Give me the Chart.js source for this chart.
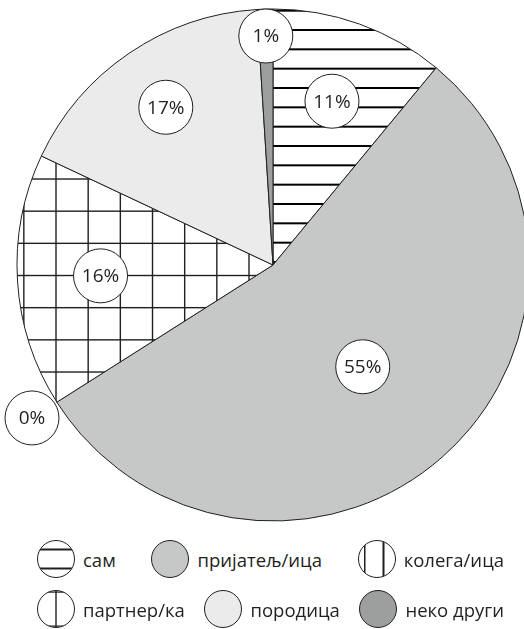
<!DOCTYPE html>
<html>
<head>
<meta charset="utf-8">
<script src="https://cdn.jsdelivr.net/npm/chart.js@4.4.1/dist/chart.umd.min.js"></script>
<style>
  html, body { margin: 0; padding: 0; background: #fff; overflow: hidden; width: 524px; height: 629px; }
  #pie { position: absolute; left: 0; top: 0; }
  #legend {
    position: absolute; left: 37px; top: 540px; width: 467px;
    font-family: "Open Sans", sans-serif; font-size: 18.5px; color: #231f20;
  }
  .row { display: flex; justify-content: space-between; align-items: center; height: 38px; margin-bottom: 12px; }
  .item { display: flex; align-items: center; }
  .item canvas { margin-right: 8px; }
</style>
</head>
<body>
<canvas id="pie" width="546" height="530"></canvas>
<div id="legend"></div>
<script>
// podaci
const categories = ['сам', 'пријатељ/ица', 'колега/ица', 'партнер/ка', 'породица', 'неко други'];
const shares = [11, 55, 0, 16, 17, 1];
const legendRows = [[0, 1, 2], [3, 4, 5]];

// izgled
const fillKinds = ['horiz', '#c6c7c7', 'vert', 'grid', '#ebebeb', '#9d9e9e'];
const labelRadius = [0.68, 0.53, 1.115, 0.675, 0.745, 0.895];
const ink = '#231f20';

// pravi sare (pattern) za isecke
function makePattern(kind) {
    const t = document.createElement('canvas');
    const c = t.getContext('2d');
    c.fillStyle = ink;
    if (kind === 'horiz') {
        t.width = 8; t.height = 58;
        [10.67, 30, 49.33].forEach(y => c.fillRect(0, y - 1, 8, 2));
    } else if (kind === 'vert') {
        t.width = 58; t.height = 8;
        [10.67, 30, 49.33].forEach(x => c.fillRect(x - 1, 0, 2, 8));
    } else {
        t.width = 193; t.height = 193;
        c.fillStyle = '#fff';
        c.fillRect(0, 0, 193, 193);
        c.fillStyle = ink;
        for (let i = 0; i < 6; i++) {
            c.fillRect(23.83 + i * 32.17 - 0.7, 0, 1.4, 193);
            c.fillRect(0, 18.17 + i * 32.17 - 0.7, 193, 1.4);
        }
        return c.createPattern(t, 'repeat');
    }
    const bg = document.createElement('canvas');
    bg.width = t.width; bg.height = t.height;
    const b = bg.getContext('2d');
    b.fillStyle = '#fff';
    b.fillRect(0, 0, bg.width, bg.height);
    b.drawImage(t, 0, 0);
    return b.createPattern(bg, 'repeat');
}

const fills = fillKinds.map(k => k.startsWith('#') ? k : makePattern(k));

// krugovi sa procentima
const percentLabels = {
    id: 'percentLabels',
    afterDatasetsDraw(chart) {
        const ctx = chart.ctx;
        chart.getDatasetMeta(0).data.forEach((arc, i) => {
            const p = arc.getProps(['x', 'y', 'startAngle', 'endAngle', 'outerRadius']);
            const mid = (p.startAngle + p.endAngle) / 2;
            const r = p.outerRadius * labelRadius[i];
            const lx = p.x + Math.cos(mid) * r;
            const ly = p.y + Math.sin(mid) * r;
            ctx.save();
            ctx.beginPath();
            ctx.arc(lx, ly, 27, 0, Math.PI * 2);
            ctx.fillStyle = '#fff';
            ctx.fill();
            ctx.lineWidth = 1;
            ctx.strokeStyle = ink;
            ctx.stroke();
            ctx.fillStyle = ink;
            ctx.font = '19px "Open Sans", sans-serif';
            ctx.textAlign = 'center';
            ctx.textBaseline = 'middle';
            ctx.fillText(shares[i] + '%', lx, ly + 1);
            ctx.restore();
        });
    }
};

const chart = new Chart(document.getElementById('pie'), {
    type: 'pie',
    data: {
        labels: categories,
        datasets: [{
            data: shares,
            backgroundColor: fills,
            borderColor: ink,
            borderWidth: 1,
            hoverOffset: 0
        }]
    },
    options: {
        responsive: false,
        animation: false,
        radius: 256,
        layout: { padding: 0 },
        plugins: {
            legend: { display: false },
            tooltip: { enabled: false }
        }
    },
    plugins: [percentLabels]
});

// legenda sa kruzicima
function drawIcon(cv, i) {
    const c = cv.getContext('2d');
    const cx = 19, cy = 19, r = 18.5;
    c.save();
    c.beginPath();
    c.arc(cx, cy, r, 0, Math.PI * 2);
    const k = fillKinds[i];
    c.fillStyle = k.startsWith('#') ? k : '#fff';
    c.fill();
    c.clip();
    c.fillStyle = ink;
    if (k === 'horiz') {
        c.fillRect(0, cy - 10.5, 38, 2);
        c.fillRect(0, cy + 8.5, 38, 2);
    } else if (k === 'vert') {
        c.fillRect(cx - 13, 0, 1.5, 38);
        c.fillRect(cx + 5.5, 0, 2, 38);
    } else if (k === 'grid') {
        c.fillRect(cx - 0.7, 0, 1.4, 38);
        c.fillRect(0, cy - 17.5, 38, 1.2);
        c.fillRect(0, cy + 16.5, 38, 1.2);
    }
    c.restore();
    c.beginPath();
    c.arc(cx, cy, r, 0, Math.PI * 2);
    c.lineWidth = 1;
    c.strokeStyle = ink;
    c.stroke();
}

const legend = document.getElementById('legend');
legendRows.forEach(row => {
    const rowEl = document.createElement('div');
    rowEl.className = 'row';
    row.forEach(i => {
        const item = document.createElement('div');
        item.className = 'item';
        const cv = document.createElement('canvas');
        cv.width = 38; cv.height = 38;
        drawIcon(cv, i);
        const span = document.createElement('span');
        span.textContent = chart.data.labels[i];
        item.appendChild(cv);
        item.appendChild(span);
        rowEl.appendChild(item);
    });
    legend.appendChild(rowEl);
});
</script>
</body>
</html>
